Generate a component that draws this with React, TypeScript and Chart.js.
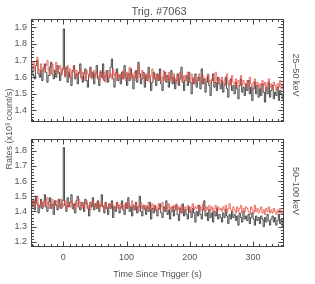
import React, { useEffect, useRef } from "react";
import { Chart, registerables } from "chart.js";

Chart.register(...registerables);

const TIMES = [
  -50, -48, -46, -44, -42, -40, -38, -36, -34, -32,
  -30, -28, -26, -24, -22, -20, -18, -16, -14, -12,
  -10, -8, -6, -4, -2, 0, 2, 4, 6, 8,
  10, 12, 14, 16, 18, 20, 22, 24, 26, 28,
  30, 32, 34, 36, 38, 40, 42, 44, 46, 48,
  50, 52, 54, 56, 58, 60, 62, 64, 66, 68,
  70, 72, 74, 76, 78, 80, 82, 84, 86, 88,
  90, 92, 94, 96, 98, 100, 102, 104, 106, 108,
  110, 112, 114, 116, 118, 120, 122, 124, 126, 128,
  130, 132, 134, 136, 138, 140, 142, 144, 146, 148,
  150, 152, 154, 156, 158, 160, 162, 164, 166, 168,
  170, 172, 174, 176, 178, 180, 182, 184, 186, 188,
  190, 192, 194, 196, 198, 200, 202, 204, 206, 208,
  210, 212, 214, 216, 218, 220, 222, 224, 226, 228,
  230, 232, 234, 236, 238, 240, 242, 244, 246, 248,
  250, 252, 254, 256, 258, 260, 262, 264, 266, 268,
  270, 272, 274, 276, 278, 280, 282, 284, 286, 288,
  290, 292, 294, 296, 298, 300, 302, 304, 306, 308,
  310, 312, 314, 316, 318, 320, 322, 324, 326, 328,
  330, 332, 334, 336, 338, 340, 342, 344, 346, 348,
];

// 25-50 keV rates (x10^3 count/s): black = source, red = background
const TOP_BLACK = [
  1.66, 1.61, 1.59, 1.67, 1.70, 1.62, 1.60, 1.64, 1.58, 1.65,
  1.68, 1.63, 1.57, 1.61, 1.66, 1.69, 1.62, 1.59, 1.64, 1.60,
  1.67, 1.63, 1.58, 1.62, 1.65, 1.89, 1.61, 1.66, 1.57, 1.63,
  1.60, 1.55, 1.64, 1.67, 1.59, 1.62, 1.56, 1.63, 1.68, 1.60,
  1.57, 1.62, 1.65, 1.58, 1.54, 1.61, 1.66, 1.60, 1.63, 1.56,
  1.62, 1.67, 1.59, 1.55, 1.63, 1.60, 1.68, 1.58, 1.61, 1.64,
  1.57, 1.60, 1.66, 1.71, 1.59, 1.54, 1.62, 1.65, 1.58, 1.61,
  1.56, 1.63, 1.59, 1.67, 1.60, 1.55, 1.62, 1.58, 1.65, 1.61,
  1.53, 1.60, 1.64, 1.57, 1.69, 1.62, 1.56, 1.59, 1.63, 1.54,
  1.61, 1.58, 1.66, 1.60, 1.52, 1.57, 1.63, 1.59, 1.55, 1.62,
  1.58, 1.65, 1.56, 1.52, 1.60, 1.63, 1.57, 1.61, 1.54, 1.59,
  1.64, 1.56, 1.60, 1.53, 1.58, 1.62, 1.55, 1.59, 1.66, 1.57,
  1.52, 1.58, 1.61, 1.55, 1.63, 1.57, 1.50, 1.59, 1.56, 1.62,
  1.54, 1.58, 1.60, 1.53, 1.65, 1.56, 1.59, 1.51, 1.57, 1.61,
  1.55, 1.49, 1.58, 1.62, 1.54, 1.57, 1.52, 1.60, 1.56, 1.53,
  1.58, 1.51, 1.55, 1.60, 1.53, 1.48, 1.56, 1.59, 1.52, 1.55,
  1.50, 1.57, 1.53, 1.47, 1.55, 1.59, 1.51, 1.54, 1.49, 1.56,
  1.52, 1.58, 1.50, 1.54, 1.46, 1.53, 1.57, 1.50, 1.55, 1.48,
  1.53, 1.49, 1.56, 1.51, 1.45, 1.54, 1.50, 1.57, 1.48, 1.52,
  1.55, 1.47, 1.51, 1.49, 1.54, 1.46, 1.52, 1.50, 1.47, 1.53,
];

const TOP_RED = [
  1.66, 1.69, 1.64, 1.67, 1.72, 1.65, 1.62, 1.68, 1.64, 1.66,
  1.63, 1.67, 1.70, 1.64, 1.61, 1.66, 1.68, 1.63, 1.65, 1.69,
  1.62, 1.65, 1.67, 1.61, 1.64, 1.66, 1.60, 1.63, 1.67, 1.62,
  1.65, 1.59, 1.63, 1.66, 1.61, 1.64, 1.60, 1.62, 1.65, 1.59,
  1.63, 1.61, 1.58, 1.64, 1.62, 1.60, 1.65, 1.59, 1.62, 1.64,
  1.60, 1.63, 1.61, 1.58, 1.64, 1.62, 1.59, 1.63, 1.57, 1.61,
  1.64, 1.60, 1.62, 1.59, 1.65, 1.61, 1.63, 1.58, 1.62, 1.60,
  1.62, 1.59, 1.64, 1.61, 1.58, 1.63, 1.60, 1.66, 1.59, 1.62,
  1.60, 1.63, 1.58, 1.62, 1.67, 1.60, 1.59, 1.64, 1.61, 1.58,
  1.62, 1.60, 1.63, 1.57, 1.61, 1.65, 1.59, 1.62, 1.58, 1.61,
  1.59, 1.62, 1.57, 1.60, 1.64, 1.58, 1.61, 1.59, 1.63, 1.57,
  1.60, 1.58, 1.62, 1.59, 1.56, 1.61, 1.58, 1.63, 1.60, 1.57,
  1.61, 1.58, 1.60, 1.63, 1.57, 1.59, 1.62, 1.56, 1.60, 1.58,
  1.57, 1.60, 1.62, 1.58, 1.56, 1.61, 1.59, 1.57, 1.60, 1.62,
  1.58, 1.56, 1.59, 1.61, 1.57, 1.63, 1.58, 1.56, 1.59, 1.57,
  1.60, 1.57, 1.55, 1.59, 1.62, 1.56, 1.58, 1.55, 1.61, 1.57,
  1.56, 1.59, 1.54, 1.58, 1.56, 1.61, 1.55, 1.58, 1.56, 1.54,
  1.58, 1.55, 1.60, 1.56, 1.53, 1.57, 1.59, 1.55, 1.57, 1.54,
  1.56, 1.53, 1.58, 1.55, 1.57, 1.52, 1.56, 1.59, 1.54, 1.56,
  1.53, 1.57, 1.55, 1.52, 1.56, 1.54, 1.58, 1.53, 1.55, 1.52,
];

// 50-100 keV rates
const BOTTOM_BLACK = [
  1.43, 1.47, 1.41, 1.50, 1.45, 1.39, 1.44, 1.48, 1.42, 1.46,
  1.51, 1.43, 1.40, 1.46, 1.49, 1.42, 1.45, 1.38, 1.47, 1.44,
  1.41, 1.48, 1.45, 1.42, 1.47, 1.82, 1.44, 1.40, 1.49, 1.43,
  1.46, 1.51, 1.42, 1.45, 1.39, 1.47, 1.50, 1.43, 1.41, 1.46,
  1.44, 1.40, 1.48, 1.45, 1.42, 1.37, 1.46, 1.43, 1.49, 1.41,
  1.45, 1.42, 1.47, 1.40, 1.44, 1.51, 1.43, 1.39, 1.46, 1.42,
  1.38, 1.45, 1.42, 1.47, 1.36, 1.43, 1.40, 1.46, 1.44, 1.39,
  1.43, 1.47, 1.41, 1.38, 1.45, 1.42, 1.49, 1.40, 1.43, 1.37,
  1.44, 1.41, 1.46, 1.39, 1.43, 1.50, 1.40, 1.37, 1.44, 1.42,
  1.38, 1.43, 1.40, 1.46, 1.35, 1.42, 1.39, 1.44, 1.41, 1.37,
  1.42, 1.45, 1.39, 1.36, 1.43, 1.40, 1.47, 1.38, 1.41, 1.35,
  1.40, 1.43, 1.37, 1.41, 1.44, 1.38, 1.34, 1.42, 1.39, 1.45,
  1.37, 1.41, 1.38, 1.35, 1.43, 1.40, 1.36, 1.42, 1.39, 1.33,
  1.40, 1.37, 1.44, 1.38, 1.35, 1.41, 1.47, 1.37, 1.39, 1.34,
  1.41, 1.36, 1.39, 1.33, 1.40, 1.37, 1.42, 1.35, 1.38, 1.36,
  1.33, 1.39, 1.36, 1.41, 1.37, 1.32, 1.38, 1.35, 1.40, 1.36,
  1.38, 1.34, 1.37, 1.31, 1.39, 1.36, 1.33, 1.40, 1.35, 1.37,
  1.34, 1.38, 1.32, 1.36, 1.39, 1.35, 1.31, 1.37, 1.34, 1.36,
  1.32, 1.37, 1.35, 1.30, 1.36, 1.33, 1.38, 1.34, 1.31, 1.35,
  1.37, 1.33, 1.36, 1.31, 1.34, 1.38, 1.32, 1.35, 1.30, 1.34,
];

const BOTTOM_RED = [
  1.45, 1.48, 1.43, 1.46, 1.50, 1.44, 1.42, 1.47, 1.45, 1.43,
  1.47, 1.44, 1.49, 1.45, 1.42, 1.46, 1.48, 1.43, 1.45, 1.47,
  1.44, 1.42, 1.46, 1.48, 1.43, 1.45, 1.47, 1.42, 1.44, 1.46,
  1.43, 1.47, 1.45, 1.41, 1.44, 1.46, 1.43, 1.48, 1.44, 1.42,
  1.46, 1.43, 1.45, 1.47, 1.42, 1.44, 1.41, 1.45, 1.47, 1.43,
  1.44, 1.46, 1.42, 1.45, 1.43, 1.47, 1.44, 1.41, 1.45, 1.43,
  1.42, 1.45, 1.43, 1.46, 1.44, 1.41, 1.43, 1.46, 1.42, 1.44,
  1.45, 1.42, 1.44, 1.41, 1.46, 1.43, 1.45, 1.42, 1.44, 1.47,
  1.43, 1.41, 1.45, 1.43, 1.40, 1.44, 1.46, 1.42, 1.44, 1.41,
  1.44, 1.42, 1.46, 1.43, 1.41, 1.45, 1.42, 1.44, 1.40, 1.43,
  1.45, 1.41, 1.43, 1.46, 1.42, 1.40, 1.44, 1.42, 1.45, 1.41,
  1.43, 1.40, 1.44, 1.42, 1.45, 1.41, 1.43, 1.39, 1.44, 1.42,
  1.40, 1.43, 1.41, 1.44, 1.42, 1.39, 1.43, 1.45, 1.41, 1.43,
  1.42, 1.44, 1.40, 1.43, 1.41, 1.45, 1.42, 1.40, 1.43, 1.41,
  1.44, 1.41, 1.43, 1.39, 1.42, 1.44, 1.40, 1.43, 1.41, 1.42,
  1.40, 1.43, 1.41, 1.44, 1.39, 1.42, 1.45, 1.41, 1.40, 1.43,
  1.41, 1.39, 1.43, 1.40, 1.42, 1.44, 1.39, 1.42, 1.40, 1.43,
  1.42, 1.40, 1.38, 1.43, 1.41, 1.39, 1.44, 1.40, 1.42, 1.39,
  1.41, 1.43, 1.39, 1.41, 1.38, 1.42, 1.40, 1.43, 1.39, 1.41,
  1.39, 1.42, 1.40, 1.38, 1.41, 1.39, 1.42, 1.38, 1.40, 1.39,
];

const X_TICKS = [0, 100, 200, 300];
const TOP_Y_TICKS = [1.4, 1.5, 1.6, 1.7, 1.8, 1.9];
const BOTTOM_Y_TICKS = [1.2, 1.3, 1.4, 1.5, 1.6, 1.7, 1.8];

const TITLE = "Trig. #7063";
const X_TITLE = "Time Since Trigger (s)";
const Y_TITLE = "Rates (x10\u00B3 count/s)";
const TOP_LABEL = "25\u201350 keV";
const BOTTOM_LABEL = "50\u2013100 keV";

const FONT = "'Liberation Sans', Arial, sans-serif";
const TEXT_COLOR = "#555";
const FRAME_COLOR = "#444";
const BLACK = "rgba(45,45,45,0.85)";
const RED = "rgba(232,78,68,0.8)";
const X_MIN = -51;
const X_MAX = 349;

const frameTicks = {
  id: "frameTicks",
  afterDraw(chart: any) {
    const { ctx, chartArea: a, scales } = chart;
    const xs = scales.x;
    const ys = scales.y;
    ctx.save();
    ctx.strokeStyle = FRAME_COLOR;
    ctx.lineWidth = 1;
    const L = Math.round(a.left) + 0.5;
    const R = Math.round(a.right) - 0.5;
    const T = Math.round(a.top) + 0.5;
    const B = Math.round(a.bottom) - 0.5;
    ctx.strokeRect(L, T, R - L, B - T);
    ctx.beginPath();
    for (let k = Math.ceil(X_MIN / 10); k * 10 <= X_MAX; k++) {
      const px = Math.round(xs.getPixelForValue(k * 10)) + 0.5;
      const len = k % 10 === 0 ? 5 : 2.5;
      ctx.moveTo(px, B);
      ctx.lineTo(px, B - len);
      ctx.moveTo(px, T);
      ctx.lineTo(px, T + len);
    }
    for (let k = Math.ceil(ys.min / 0.02 - 1e-6); k * 0.02 <= ys.max + 1e-9; k++) {
      const py = Math.round(ys.getPixelForValue(k * 0.02)) + 0.5;
      const len = k % 5 === 0 ? 5 : 2.5;
      ctx.moveTo(L, py);
      ctx.lineTo(L + len, py);
      ctx.moveTo(R, py);
      ctx.lineTo(R - len, py);
    }
    ctx.stroke();
    ctx.restore();
  },
};

type PanelProps = {
  black: number[];
  red: number[];
  yMin: number;
  yMax: number;
  yTicks: number[];
  showX: boolean;
  top: number;
  height: number;
  padTop: number;
  padBottom: number;
  xHeight: number;
};

function Panel(p: PanelProps) {
  const ref = useRef<HTMLCanvasElement>(null);
  useEffect(() => {
    if (!ref.current) return;
    const chart = new Chart(ref.current, {
      type: "line",
      data: {
        datasets: [
          {
            data: TIMES.map((t, i) => ({ x: t, y: p.red[i] })),
            borderColor: RED,
            borderWidth: 1,
            pointRadius: 0,
            stepped: true,
            fill: false,
            order: 0,
          },
          {
            data: TIMES.map((t, i) => ({ x: t, y: p.black[i] })),
            borderColor: BLACK,
            borderWidth: 1,
            pointRadius: 0,
            stepped: true,
            fill: false,
            order: 1,
          },
        ],
      },
      options: {
        animation: false,
        responsive: false,
        maintainAspectRatio: false,
        events: [],
        layout: { padding: { left: 0, right: 31, top: p.padTop, bottom: p.padBottom } },
        plugins: {
          legend: { display: false },
          tooltip: { enabled: false },
          title: { display: false },
        },
        scales: {
          x: {
            type: "linear",
            min: X_MIN,
            max: X_MAX,
            grid: { display: false, drawTicks: false },
            border: { display: false },
            afterBuildTicks: (s: any) => {
              s.ticks = X_TICKS.map((v) => ({ value: v }));
            },
            ticks: {
              display: p.showX,
              color: TEXT_COLOR,
              font: { family: FONT, size: 9 },
              padding: 5,
              maxRotation: 0,
              autoSkip: false,
            },
            title: {
              display: p.showX,
              text: X_TITLE,
              color: TEXT_COLOR,
              font: { family: FONT, size: 9 },
              padding: { top: 0, bottom: 4 },
            },
            afterFit: (s: any) => {
              s.height = p.xHeight;
            },
          },
          y: {
            type: "linear",
            min: p.yMin,
            max: p.yMax,
            grid: { display: false, drawTicks: false },
            border: { display: false },
            afterBuildTicks: (s: any) => {
              s.ticks = p.yTicks.map((v) => ({ value: v }));
            },
            ticks: {
              color: TEXT_COLOR,
              font: { family: FONT, size: 9 },
              padding: 4,
              callback: (v: any) => Number(v).toFixed(1),
            },
            afterFit: (s: any) => {
              s.width = 31;
            },
          },
        },
      },
      plugins: [frameTicks],
    } as any);
    return () => chart.destroy();
  }, []);
  return (
    <canvas
      ref={ref}
      width={315}
      height={p.height}
      style={{ position: "absolute", left: 0, top: p.top, width: 315, height: p.height, display: "block" }}
    />
  );
}

function RotLabel(props: { text: string; cx: number; cy: number; w: number; deg: number; size: number }) {
  const h = 14;
  return (
    <div
      style={{
        position: "absolute",
        left: props.cx - props.w / 2,
        top: props.cy - h / 2,
        width: props.w,
        height: h,
        lineHeight: `${h}px`,
        textAlign: "center",
        fontFamily: FONT,
        fontSize: props.size,
        color: TEXT_COLOR,
        whiteSpace: "nowrap",
        transform: `rotate(${props.deg}deg)`,
      }}
    >
      {props.text}
    </div>
  );
}

export default function App() {
  return (
    <div
      style={{
        position: "fixed",
        left: 0,
        top: 0,
        width: 315,
        height: 284,
        background: "#fff",
        overflow: "hidden",
      }}
    >
      <Panel
        black={TOP_BLACK}
        red={TOP_RED}
        yMin={1.333}
        yMax={1.95}
        yTicks={TOP_Y_TICKS}
        showX={false}
        top={0}
        height={131}
        padTop={19}
        padBottom={1}
        xHeight={0}
      />
      <Panel
        black={BOTTOM_BLACK}
        red={BOTTOM_RED}
        yMin={1.166}
        yMax={1.874}
        yTicks={BOTTOM_Y_TICKS}
        showX={true}
        top={130}
        height={154}
        padTop={5}
        padBottom={0}
        xHeight={37}
      />
      <RotLabel text={TITLE} cx={159} cy={11} w={120} deg={0} size={11} />
      <RotLabel text={Y_TITLE} cx={9} cy={129} w={130} deg={-90} size={9} />
      <RotLabel text={TOP_LABEL} cx={296} cy={75} w={80} deg={90} size={9} />
      <RotLabel text={BOTTOM_LABEL} cx={296} cy={191} w={80} deg={90} size={9} />
    </div>
  );
}
